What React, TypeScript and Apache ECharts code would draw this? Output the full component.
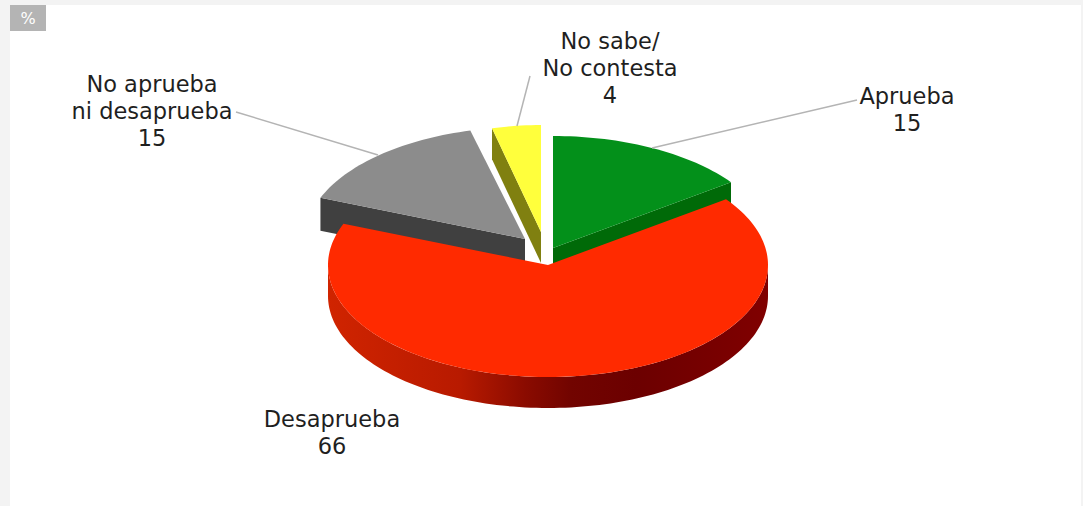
import React, { useEffect, useRef } from "react";
import * as echarts from "echarts";

const categories = ["Aprueba", "Desaprueba", "No aprueba\nni desaprueba", "No sabe/\nNo contesta"];
const values = [15, 66, 15, 4];

const topColors = ["#03901a", "#ff2a00", "#8c8c8c", "#ffff3c"];
const wallColors = ["#006a08", "#8a0b00", "#404040", "#808010"];
// draw order, back to front
const layers = [2, 3, 0, 1].reduce((acc: number[], s, i) => { acc[s] = i * 10; return acc; }, []);
const slices = [
  { cx: 553, cy: 248, rx: 220, ry: 112, depth: 30 },
  { cx: 548, cy: 265, rx: 220, ry: 112, depth: 31 },
  { cx: 525, cy: 239, rx: 220, ry: 112, depth: 33 },
  { cx: 541, cy: 232, rx: 197, ry: 107, depth: 31 },
];
const labelPos = [
  { x: 907, y: 109.5 },
  { x: 332, y: 432 },
  { x: 152, y: 111 },
  { x: 610, y: 68 },
];
const leaders: (number[][] | null)[] = [
  [[652, 148], [857, 100]],
  null,
  [[378, 155], [236, 112]],
  [[517, 126], [530, 76]],
];

const total = values.reduce((a, b) => a + b, 0);
const FONT = '22.5px "DejaVu Sans", sans-serif';

function rim(s: { cx: number; cy: number; rx: number; ry: number }, deg: number, dy = 0) {
  const t = (deg * Math.PI) / 180;
  return [s.cx + s.rx * Math.sin(t), s.cy - s.ry * Math.cos(t) + dy];
}

function arc(s: any, a: number, b: number, dy = 0) {
  const n = Math.max(2, Math.ceil(Math.abs(b - a) / 1.5));
  const pts: number[][] = [];
  for (let i = 0; i <= n; i++) pts.push(rim(s, a + ((b - a) * i) / n, dy));
  return pts;
}

function renderItem(params: any, api: any) {
  const i = params.dataIndex;
  const v = api.value(0) as number;
  let before = 0;
  for (let k = 0; k < i; k++) before += values[k];
  const start = (before / total) * 360;
  const end = ((before + v) / total) * 360;
  const s = slices[i];
  const z = layers[i];
  const children: any[] = [];
  const apex = [s.cx, s.cy];
  const apexLow = [s.cx, s.cy + s.depth];

  // cut faces that look towards the viewer
  if (Math.sin((start * Math.PI) / 180) < -1e-6) {
    children.push({
      type: "polygon", z2: z,
      shape: { points: [rim(s, start), apex, apexLow, rim(s, start, s.depth)] },
      style: { fill: wallColors[i] },
    });
  }
  if (Math.sin((end * Math.PI) / 180) > 1e-6) {
    children.push({
      type: "polygon", z2: z,
      shape: { points: [rim(s, end), apex, apexLow, rim(s, end, s.depth)] },
      style: { fill: wallColors[i] },
    });
  }
  // outer wall on the front half
  const a = Math.max(start, 90);
  const b = Math.min(end, 270);
  if (b > a) {
    children.push({
      type: "polygon", z2: z + 1,
      shape: { points: [...arc(s, a, b), ...arc(s, b, a, s.depth)] },
      style: {
        fill: new echarts.graphic.LinearGradient(0, 0, 1, 0, [
          { offset: 0, color: "#d02400" },
          { offset: 0.3, color: "#b81a00" },
          { offset: 0.45, color: "#8a0b00" },
          { offset: 0.55, color: "#720400" },
          { offset: 0.7, color: "#6c0000" },
          { offset: 1, color: "#800000" },
        ]),
      },
    });
  }
  // top face
  children.push({
    type: "polygon", z2: z + 2,
    shape: { points: [apex, ...arc(s, start, end)] },
    style: { fill: topColors[i] },
  });
  // leader + label
  const l = leaders[i];
  if (l) {
    children.push({
      type: "polyline", z2: 50,
      shape: { points: l },
      style: { stroke: "#b4b4b4", lineWidth: 1.5, fill: "none" },
    });
  }
  children.push({
    type: "text", z2: 60,
    style: {
      x: labelPos[i].x, y: labelPos[i].y,
      text: `${categories[i]}\n${v}`,
      align: "center", verticalAlign: "middle",
      font: FONT, lineHeight: 27, fill: "#1f1f1f",
    },
  });
  return { type: "group", children };
}

export default function App() {
  const ref = useRef<HTMLDivElement>(null);
  useEffect(() => {
    document.body.style.margin = "0";
    const chart = echarts.init(ref.current!, undefined, { renderer: "svg" });
    chart.setOption({
      animation: false,
      backgroundColor: "#f3f3f3",
      graphic: [
        { type: "rect", z: 0, shape: { x: 10, y: 5, width: 1071, height: 501 }, style: { fill: "#ffffff" } },
        { type: "rect", z: 0, shape: { x: 10, y: 5, width: 36, height: 26 }, style: { fill: "#b4b4b4" } },
        {
          type: "text", z: 1,
          style: { x: 28, y: 18, text: "%", align: "center", verticalAlign: "middle", font: '16px "DejaVu Sans", sans-serif', fill: "#ffffff" },
        },
      ],
      series: [
        { type: "custom", coordinateSystem: "none", z: 5, silent: true, renderItem, data: values },
      ],
    });
    return () => chart.dispose();
  }, []);
  return <div ref={ref} style={{ position: "absolute", left: 0, top: 0, width: 1083, height: 506 }} />;
}
